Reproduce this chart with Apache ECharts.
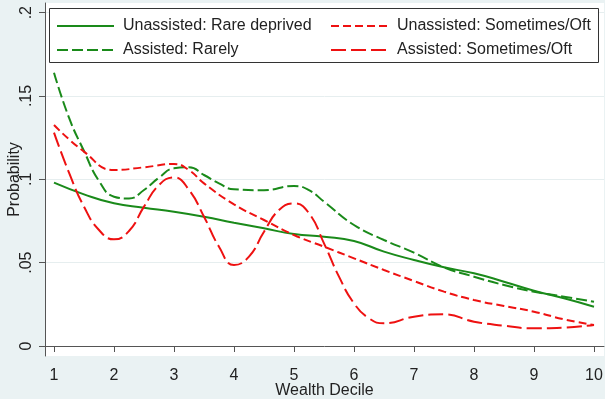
<!DOCTYPE html>
<html>
<head>
<meta charset="utf-8">
<script src="https://cdn.jsdelivr.net/npm/echarts@6/dist/echarts.min.js"></script>
<style>
  html, body { margin: 0; padding: 0; background: #eaf2f3; }
  #chart { width: 605px; height: 399px; }
</style>
</head>
<body>
<div id="chart"></div>
<script>
// values
const xTicks = [1, 2, 3, 4, 5, 6, 7, 8, 9, 10];
const yTicks = [0, 0.05, 0.1, 0.15, 0.2];
const yTickLabels = ['0', '.05', '.1', '.15', '.2'];

const unassistedRareX = [1, 1.5, 2, 2.5, 3, 3.5, 4, 4.5, 5, 5.5, 6, 6.5, 7, 7.5, 8, 8.5, 9, 9.5, 10];
const unassistedRareY = [0.098, 0.091, 0.0856, 0.083, 0.0806, 0.0776, 0.074, 0.0706, 0.0672, 0.0656, 0.063, 0.0566, 0.0516, 0.0472, 0.0436, 0.0386, 0.0332, 0.0286, 0.0236];

const assistedRarelyX = [1, 1.25, 1.5, 1.75, 2, 2.25, 2.5, 2.75, 3, 3.25, 3.5, 3.75, 4, 4.5, 5, 5.25, 5.5, 6, 6.5, 7, 7.5, 8, 8.5, 9, 9.5, 10];
const assistedRarelyY = [0.164, 0.137, 0.117, 0.099, 0.0896, 0.0885, 0.0936, 0.101, 0.1066, 0.1072, 0.1026, 0.0976, 0.094, 0.0935, 0.096, 0.0935, 0.0866, 0.0726, 0.0636, 0.056, 0.0472, 0.0416, 0.0366, 0.0326, 0.0296, 0.0266];

const unassistedOftX = [1, 1.5, 2, 2.5, 3, 3.25, 3.5, 4, 4.5, 5, 5.5, 6, 6.5, 7, 7.5, 8, 8.5, 9, 9.5, 10];
const unassistedOftY = [0.1326, 0.1166, 0.1056, 0.1072, 0.1092, 0.1055, 0.0976, 0.085, 0.0756, 0.0666, 0.0596, 0.0526, 0.0456, 0.039, 0.0326, 0.0276, 0.024, 0.0206, 0.016, 0.0126];

const assistedOftX = [1, 1.25, 1.5, 1.75, 2, 2.25, 2.5, 2.75, 3, 3.25, 3.5, 3.75, 4, 4.25, 4.5, 4.75, 5, 5.25, 5.5, 5.75, 6, 6.25, 6.5, 7, 7.5, 8, 8.5, 9, 9.5, 10];
const assistedOftY = [0.128, 0.104, 0.0836, 0.0696, 0.064, 0.069, 0.0836, 0.0966, 0.1012, 0.0936, 0.0776, 0.0596, 0.0486, 0.0536, 0.0686, 0.0816, 0.0856, 0.0796, 0.0616, 0.0416, 0.0256, 0.0166, 0.0136, 0.0176, 0.019, 0.0146, 0.0122, 0.0106, 0.011, 0.0126];

const GREEN = '#1a8a1a';
const RED = '#ee1111';
const FONT = 'Liberation Sans, Arial, sans-serif';

const pairs = (xs, ys) => xs.map((x, i) => [x, ys[i]]);

const makeSeries = (name, xs, ys, color, type) => ({
  name: name,
  type: 'line',
  data: pairs(xs, ys),
  smooth: 0.5,
  showSymbol: false,
  symbol: 'none',
  lineStyle: { width: 2, color: color, type: type },
  itemStyle: { color: color }
});

const legendBase = {
  orient: 'vertical',
  padding: 0,
  itemWidth: 57,
  itemHeight: 14,
  itemGap: 8,
  itemStyle: { opacity: 0 },
  textStyle: { fontFamily: FONT, fontSize: 16, color: '#222', padding: [0, 0, 0, 4] }
};

const chart = echarts.init(document.getElementById('chart'));
chart.setOption({
  animation: false,
  backgroundColor: '#eaf2f3',
  grid: {
    left: 45, right: 1, top: 3, bottom: 43,
    outerBoundsMode: 'none',
    show: true, backgroundColor: '#ffffff', borderWidth: 0
  },
  legend: [
    Object.assign({}, legendBase, { left: 56, top: 18, data: ['Unassisted: Rare deprived', 'Assisted: Rarely'] }),
    Object.assign({}, legendBase, { left: 330, top: 18, data: ['Unassisted: Sometimes/Oft', 'Assisted: Sometimes/Oft'] })
  ],
  graphic: [{
    type: 'rect',
    left: 49, top: 8, z: 3,
    shape: { width: 549, height: 54 },
    style: { fill: '#ffffff', stroke: '#333333', lineWidth: 1 }
  }],
  xAxis: {
    type: 'value',
    min: 0.85,
    max: 10.1667,
    name: 'Wealth Decile',
    nameLocation: 'middle',
    nameGap: 27,
    nameMoveOverlap: false,
    nameTextStyle: { fontFamily: FONT, fontSize: 16, color: '#222' },
    axisLine: { lineStyle: { color: '#555', width: 1 } },
    axisTick: { customValues: xTicks, length: 6, lineStyle: { color: '#555' } },
    axisLabel: { customValues: xTicks, fontFamily: FONT, fontSize: 16, color: '#222', margin: 12 },
    splitLine: { show: false }
  },
  yAxis: {
    type: 'value',
    min: -0.006,
    max: 0.2058,
    name: 'Probability',
    nameLocation: 'middle',
    nameGap: 22,
    nameMoveOverlap: false,
    nameTextStyle: { fontFamily: FONT, fontSize: 16, color: '#222' },
    axisLine: { show: true, lineStyle: { color: '#555', width: 1 } },
    axisTick: { show: true, customValues: yTicks, length: 6, lineStyle: { color: '#555' } },
    axisLabel: {
      customValues: yTicks,
      rotate: 90,
      margin: 10,
      fontFamily: FONT, fontSize: 16, color: '#222',
      formatter: v => {
        const i = yTicks.findIndex(t => Math.abs(t - v) < 1e-9);
        return i >= 0 ? yTickLabels[i] : '';
      }
    },
    splitLine: { show: true, lineStyle: { color: '#e6eeef', width: 1 } }
  },
  series: [
    makeSeries('Unassisted: Rare deprived', unassistedRareX, unassistedRareY, GREEN, 'solid'),
    makeSeries('Assisted: Rarely', assistedRarelyX, assistedRarelyY, GREEN, [11, 4]),
    makeSeries('Unassisted: Sometimes/Oft', unassistedOftX, unassistedOftY, RED, [8, 4]),
    makeSeries('Assisted: Sometimes/Oft', assistedOftX, assistedOftY, RED, [15, 5])
  ]
});
</script>
</body>
</html>
